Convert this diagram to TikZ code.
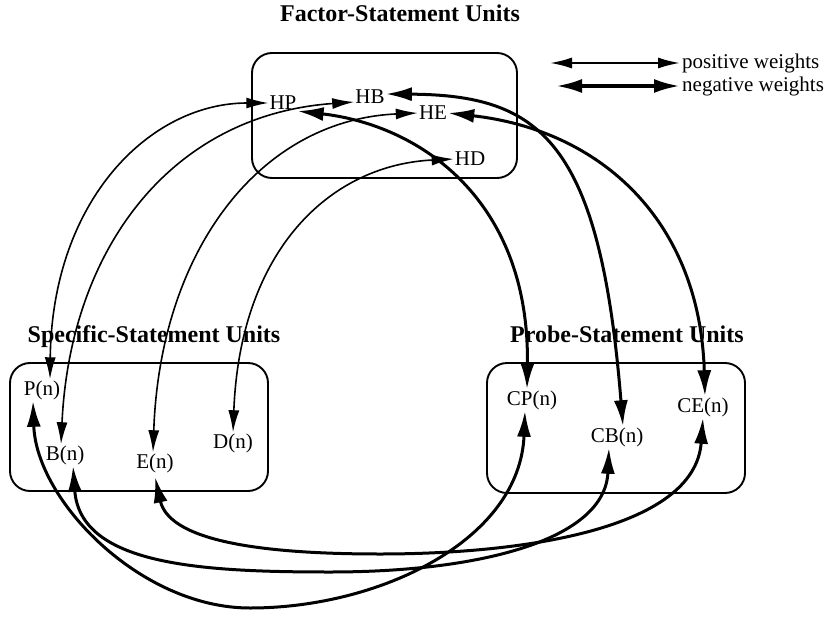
\documentclass[tikz,border=0pt]{standalone}
\usepackage{fontspec}
\setmainfont{Liberation Serif}
\usetikzlibrary{arrows.meta}
\tikzset{
  lbl/.style={font=\fontsize{21}{25}\selectfont, inner sep=1pt},
  ttl/.style={font=\fontsize{24}{28}\selectfont\bfseries, inner sep=0pt, anchor=base},
  unitbox/.style={draw, line width=1.9pt, rounded corners=20pt},
  thinwt/.style={line width=1.6pt, >={Latex[length=22pt,width=11pt]}, <->},
  thickwt/.style={line width=3pt, >={Latex[length=26pt,width=14pt]}, <->},
}
\begin{document}
\begin{tikzpicture}[x=1pt,y=-1pt]
\fill[white] (0,0) rectangle (833,618);
\useasboundingbox (0,0) rectangle (833,618);

% titles
\node[ttl] (tF) at (400,22) {Factor-Statement Units};
\node[ttl] (tS) at (154,342) {Specific-Statement Units};
\node[ttl] (tP) at (627,342) {Probe-Statement Units};

% unit boxes
\draw[unitbox] (252,53) rectangle (517,178);
\draw[unitbox] (10,363) rectangle (268,491);
\draw[unitbox] (487,363) rectangle (745,493);

% factor-statement units
\node[lbl] (HP) at (283,103) {HP};
\node[lbl] (HB) at (370,97) {HB};
\node[lbl] (HE) at (433,113) {HE};
\node[lbl] (HD) at (470,159) {HD};

% specific-statement units
\node[lbl] (P) at (42,390) {P(n)};
\node[lbl] (B) at (65,455) {B(n)};
\node[lbl] (E) at (155,463) {E(n)};
\node[lbl] (D) at (233,443) {D(n)};

% probe-statement units
\node[lbl] (CP) at (532,400) {CP(n)};
\node[lbl] (CB) at (617,437) {CB(n)};
\node[lbl] (CE) at (703,407) {CE(n)};

% legend
\node[lbl, anchor=west, inner sep=2pt] (posT) at (680,63) {positive weights};
\coordinate (posL) at (550,63);
\draw[thinwt, line width=2pt] (posL) -- (posT.west);
\node[lbl, anchor=west, inner sep=2pt] (negT) at (680,86) {negative weights};
\coordinate (negL) at (556,86);
\draw[thickwt, line width=3.6pt] (negL) -- (negT.west);

% positive weights: specific <-> factor
\draw[thinwt] ([xshift=8pt]P.north) .. controls (52,200) and (150,103) .. (HP.west);
\draw[thinwt] ([xshift=-4pt]B.north) .. controls (70,250) and (170,115) .. ([yshift=-5pt]HB.west);
\draw[thinwt] ([xshift=-2pt]E.north) .. controls (160,250) and (260,120) .. (HE.west);
\draw[thinwt] (D.north) .. controls (240,250) and (330,165) .. (HD.west);

% negative weights: factor <-> probe
\draw[thickwt] (HP.south east) .. controls (420,125) and (530,200) .. ([xshift=-5pt]CP.north);
\draw[thickwt] ([yshift=3pt]HB.east) .. controls (540,95) and (600,140) .. ([xshift=6pt]CB.north);
\draw[thickwt] (HE.east) .. controls (600,130) and (700,220) .. ([xshift=2pt]CE.north);

% negative weights: specific <-> probe
\draw[thickwt] ([xshift=-9pt]P.south) .. controls (36,500) and (140,608) .. (250,608)
  .. controls (380,608) and (520,540) .. ([xshift=-7pt]CP.south);
\draw[thickwt] ([xshift=8pt]B.south) .. controls (80,565) and (200,572) .. (330,572)
  .. controls (480,572) and (605,540) .. ([xshift=-8pt]CB.south);
\draw[thickwt] ([yshift=-3pt]E.south) .. controls (170,545) and (280,554) .. (380,554)
  .. controls (520,554) and (695,530) .. (CE.south);
\end{tikzpicture}
\end{document}
